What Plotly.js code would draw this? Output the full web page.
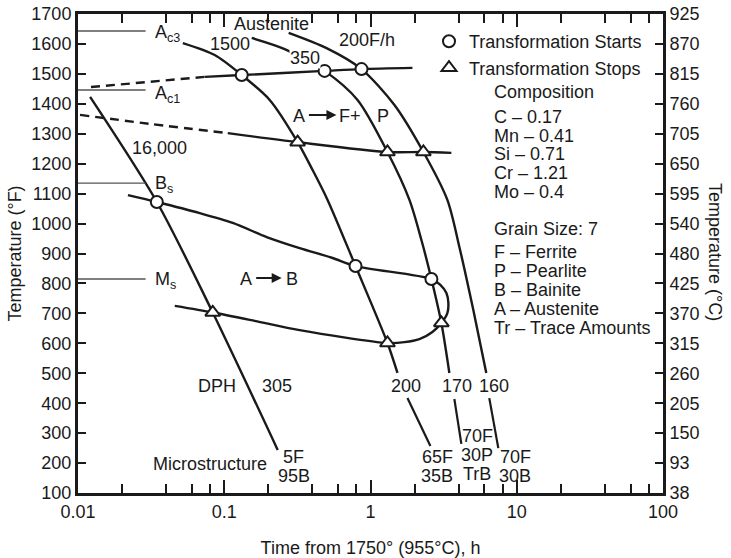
<!DOCTYPE html>
<html>
<head>
<meta charset="utf-8">
<script src="https://cdn.plot.ly/plotly-3.0.1.min.js"></script>
<style>
  html, body { margin: 0; padding: 0; background: #fff; }
  #chart { width: 731px; height: 558px; }
</style>
</head>
<body>
<div id="chart"></div>
<script>
// Continuous-cooling transformation diagram of a Cr-Mo steel austenitized at 1750 °F.
const FONT = 'Liberation Sans, Arial, Helvetica, sans-serif';
const INK = '#1a1a1a';

// Cooling curves: time from 1750 °F (h) and temperature (°F)
const cool16000Time = [0.0121, 0.0346, 0.0834, 0.232];
const cool16000Temp = [1423, 1072, 703, 244];

const cool1500Time = [0.0521, 0.0861, 0.1317, 0.2045, 0.3175, 0.4018, 0.5087, 0.790, 1.306, 1.529];
const cool1500Temp = [1603, 1563, 1496, 1413, 1272, 1179, 1079, 858, 601, 501];

const cool350Time = [0.1541, 0.2588, 0.4853, 0.8153, 1.306, 1.846, 2.229, 2.609, 3.052, 3.461];
const cool350Temp = [1620, 1583, 1510, 1413, 1239, 1079, 945, 815, 668, 501];

const cool200Time = [0.2756, 0.5008, 0.868, 1.458, 2.300, 3.354, 4.051, 5.048, 6.19];
const cool200Temp = [1637, 1586, 1516, 1396, 1239, 1079, 922, 711, 501];

// Ferrite start line (dashed below the measured range, then solid)
const ferriteStartDashTime = [0.01227, 0.0736];
const ferriteStartDashTemp = [1456, 1490];
const ferriteStartTime = [0.0736, 0.1317, 0.4853, 0.868, 1.935];
const ferriteStartTemp = [1490, 1496, 1510, 1516, 1520];

// Ferrite/pearlite finish line
const ferriteStopDashTime = [0.01032, 0.0310, 0.1057];
const ferriteStopDashTemp = [1363, 1333, 1302];
const ferriteStopTime = [0.1057, 0.3175, 1.306, 2.300, 3.572];
const ferriteStopTemp = [1302, 1272, 1239, 1239, 1236];

// Bainite start, nose loop and bainite finish as one path
const bainiteTime = [0.02195, 0.0346, 0.0680, 0.1143, 0.1950, 0.3277, 0.5502, 0.790, 2.609,
  3.004, 3.303, 3.407, 3.354, 3.052, 2.650, 2.160, 1.707, 1.306, 0.3277, 0.1615, 0.0834, 0.0459];
const bainiteTemp = [1095, 1072, 1035, 1002, 955, 918, 885, 858, 815,
  795, 768, 735, 701, 668, 638, 614, 604, 601, 644, 675, 703, 725];

// Transformation points
const startTime = [0.0346, 0.1317, 0.4853, 0.868, 0.790, 2.609];
const startTemp = [1072, 1496, 1510, 1516, 858, 815];
const stopTime = [0.0834, 0.3175, 1.306, 2.300, 1.306, 3.052];
const stopTemp = [703, 1272, 1239, 1239, 601, 668];

// Leader lines from hardness values to microstructures
const leader200Time = [1.789, 2.568];  const leader200Temp = [417, 257];
const leader170Time = [3.744, 4.180];  const leader170Temp = [414, 264];
const leader160Time = [6.49, 7.48];    const leader160Temp = [417, 250];

// Critical temperatures (°F)
const criticalLabels = ['A<sub>c3</sub>', 'A<sub>c1</sub>', 'B<sub>s</sub>', 'M<sub>s</sub>'];
const criticalTemps = [1643, 1446, 1135, 815];
const criticalLineEnd = 0.029;

// Axis ticks
const timeTicks = [0.01, 0.1, 1, 10, 100];
const timeTickText = ['0.01', '0.1', '1', '10', '100'];
const timeMinor = [];
[0.01, 0.1, 1, 10].forEach(d => [2, 4, 6, 8].forEach(m => timeMinor.push(+(d * m).toPrecision(3))));
const tempTicksF = [100, 200, 300, 400, 500, 600, 700, 800, 900, 1000, 1100, 1200, 1300, 1400, 1500, 1600, 1700];
const tempTicksC = ['38', '93', '150', '205', '260', '315', '370', '425', '480', '540', '595', '650', '705', '760', '815', '870', '925'];

// Text panels
const compositionLines = ['C – 0.17', 'Mn – 0.41', 'Si – 0.71', 'Cr – 1.21', 'Mo – 0.4'];
const keyLines = ['F – Ferrite', 'P – Pearlite', 'B – Bainite', 'A – Austenite', 'Tr – Trace Amounts'];
const hardness = ['305', '200', '170', '160'];
const microstructures = [['5F', '95B'], ['65F', '35B'], ['70F', '30P', 'TrB'], ['70F', '30B']];

const curveLine = { color: INK, width: 2.4, shape: 'spline', smoothing: 0.8 };
const line = (x, y, extra) => Object.assign({
  type: 'scatter', mode: 'lines', x, y, showlegend: false, hoverinfo: 'skip',
  line: Object.assign({}, curveLine)
}, extra || {});

const traces = [
  line(cool16000Time, cool16000Temp),
  line(cool1500Time, cool1500Temp),
  line(cool350Time, cool350Temp),
  line(cool200Time, cool200Temp),
  line(ferriteStartDashTime, ferriteStartDashTemp, { line: { color: INK, width: 2.4, dash: '9px,6px' } }),
  line(ferriteStartTime, ferriteStartTemp),
  line(ferriteStopDashTime, ferriteStopDashTemp, { line: { color: INK, width: 2.4, dash: '9px,6px', shape: 'spline' } }),
  line(ferriteStopTime, ferriteStopTemp),
  line(bainiteTime, bainiteTemp),
  line(leader200Time, leader200Temp, { line: { color: INK, width: 2.2 } }),
  line(leader170Time, leader170Temp, { line: { color: INK, width: 2.2 } }),
  line(leader160Time, leader160Temp, { line: { color: INK, width: 2.2 } })
];
criticalTemps.forEach(T => traces.push(line([0.01, criticalLineEnd], [T, T], { line: { color: '#555', width: 1.4 } })));

traces.push({
  type: 'scatter', mode: 'markers', name: 'Transformation Starts',
  x: startTime, y: startTemp, hoverinfo: 'skip',
  marker: { symbol: 'circle', size: 12, color: '#fff', line: { color: INK, width: 2 } }
});
traces.push({
  type: 'scatter', mode: 'markers', name: 'Transformation Stops',
  x: stopTime, y: stopTemp, hoverinfo: 'skip',
  marker: { symbol: 'triangle-up', size: 13, color: '#fff', line: { color: INK, width: 2 } }
});
// carries the °C scale on the right
traces.push({ type: 'scatter', mode: 'markers', x: [], y: [], yaxis: 'y2', showlegend: false, hoverinfo: 'skip' });

const lg = Math.log10;
const baseFont = { family: FONT, size: 18, color: INK };
const txt = (text, t, temp, opt) => Object.assign({
  xref: 'x', yref: 'y', x: lg(t), y: temp, text, showarrow: false, font: baseFont
}, opt || {});

const annotations = [
  txt('Austenite', 0.211, 1667),
  txt('1500', 0.109, 1600),
  txt('350', 0.354, 1553, { bgcolor: '#fff', borderpad: 0 }),
  txt('200F/h', 0.939, 1613),
  txt('A', 0.3225, 1358),
  txt('F+', 0.719, 1358),
  txt('P', 1.227, 1358),
  { xref: 'x', yref: 'y', x: lg(0.585), y: 1363, ax: -29, ay: 0, text: '', showarrow: true,
    arrowhead: 2, arrowsize: 1, arrowwidth: 2, arrowcolor: INK },
  txt('A', 0.140, 815),
  txt('B', 0.289, 815),
  { xref: 'x', yref: 'y', x: lg(0.247), y: 818, ax: -27, ay: 0, text: '', showarrow: true,
    arrowhead: 2, arrowsize: 1, arrowwidth: 2, arrowcolor: INK },
  txt('16,000', 0.0363, 1252),
  txt('DPH', 0.0889, 457),
  txt('Microstructure', 0.0796, 197)
];

// hardness values under each cooling curve
[0.228, 1.761, 3.926, 7.02].forEach((t, i) => annotations.push(txt(hardness[i], t, 457)));

// resulting microstructures, one text line every 63.5 °F
const microPos = [[0.298, 220], [2.866, 220], [5.375, 290], [9.77, 220]];
microstructures.forEach((lines, i) => lines.forEach((s, k) =>
  annotations.push(txt(s, microPos[i][0], microPos[i][1] - 63.5 * k))));

// critical temperature labels
const critOffset = [-8, -16, -4, -6];
criticalLabels.forEach((s, i) => annotations.push(txt(s, 0.0325, criticalTemps[i] + critOffset[i], { xanchor: 'left' })));

// composition and key panel
const panelT = 6.81;
annotations.push(txt('Composition', panelT, 1440, { xanchor: 'left' }));
compositionLines.forEach((s, k) => annotations.push(txt(s, panelT, 1356 - 62.5 * k, { xanchor: 'left' })));
annotations.push(txt('Grain Size: 7', panelT, 982, { xanchor: 'left' }));
keyLines.forEach((s, k) => annotations.push(txt(s, panelT, 905 - 63.5 * k, { xanchor: 'left' })));

// right-hand axis title
annotations.push({ xref: 'paper', yref: 'paper', x: 1.089, y: 0.503, xanchor: 'center', yanchor: 'middle',
  text: 'Temperature (°C)', textangle: 90, showarrow: false, font: baseFont });

const layout = {
  width: 731, height: 558,
  margin: { l: 78, r: 68, t: 14, b: 65 },
  paper_bgcolor: '#fff', plot_bgcolor: '#fff',
  font: baseFont,
  showlegend: true,
  legend: { x: 0.600, y: 0.981, xanchor: 'left', yanchor: 'top', bgcolor: 'rgba(0,0,0,0)',
    font: baseFont, tracegroupgap: 0 },
  xaxis: {
    type: 'log', range: [-2, 2], tickmode: 'array', tickvals: timeTicks, ticktext: timeTickText,
    ticks: 'inside', ticklen: 13, tickwidth: 2, tickcolor: INK,
    showline: true, linewidth: 3, linecolor: INK, mirror: 'ticks',
    showgrid: false, zeroline: false, tickfont: baseFont,
    minor: { tickmode: 'array', tickvals: timeMinor, ticks: 'inside', ticklen: 9, tickwidth: 2, tickcolor: INK, showgrid: false },
    title: { text: 'Time from 1750° (955°C), h', font: baseFont, standoff: 22 }
  },
  yaxis: {
    range: [100, 1700], tickmode: 'array', tickvals: tempTicksF,
    ticks: 'inside', ticklen: 8, tickwidth: 2, tickcolor: INK,
    showline: true, linewidth: 3, linecolor: INK,
    showgrid: false, zeroline: false, tickfont: baseFont,
    title: { text: 'Temperature (°F)', font: baseFont, standoff: 6 }
  },
  yaxis2: {
    overlaying: 'y', side: 'right', anchor: 'x',
    range: [100, 1700], tickmode: 'array', tickvals: tempTicksF, ticktext: tempTicksC,
    ticks: 'inside', ticklen: 8, tickwidth: 2, tickcolor: INK,
    showline: true, linewidth: 3, linecolor: INK,
    showgrid: false, zeroline: false, tickfont: baseFont
  },
  annotations
};

Plotly.newPlot('chart', traces, layout, { staticPlot: true, displayModeBar: false });
</script>
</body>
</html>
